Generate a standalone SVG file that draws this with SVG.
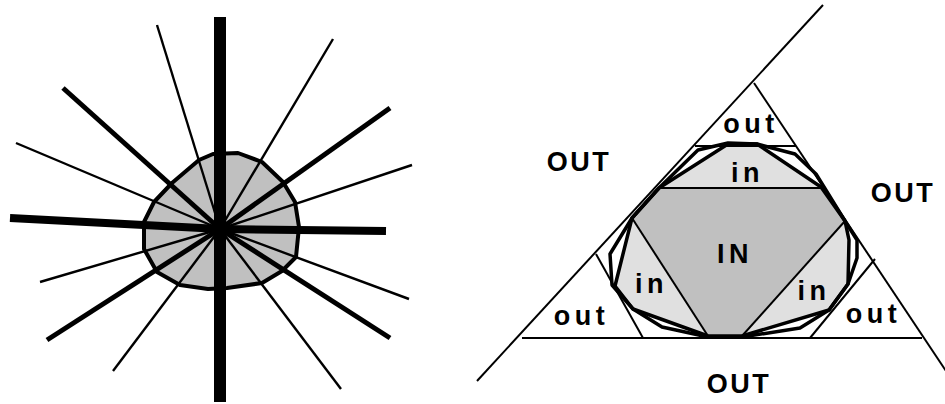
<svg xmlns="http://www.w3.org/2000/svg" width="945" height="404" viewBox="0 0 945 404">
<style>
.ray{stroke:#000;stroke-linecap:butt;fill:none}
.thin{stroke-width:2.4}
.thick{stroke-width:5}
.thn{stroke:#000;stroke-width:2;fill:none}
.poly{stroke:#000;stroke-width:3.5;stroke-linejoin:round}
.lbl{font-family:"Liberation Sans",Arial,sans-serif;font-weight:bold;font-size:27px;fill:#000;text-anchor:middle}
.big{letter-spacing:2.5px}
.sm{letter-spacing:4.5px}
</style>
<rect width="945" height="404" fill="#fff"/>
<g id="left-figure">
  <g id="blob">
    <polygon points="199,160 213,154 238,153 262,162 283,182 295,202 299,227 296,257 282,271 262,283 227,288 208,289 180,285 157,272 144,249 144,222 154,202 172,183" fill="#c0c0c0" stroke="#000" stroke-width="4" stroke-linejoin="round"/>
  </g>
  <g id="rays">
    <line class="ray thin" x1="220" y1="229" x2="157" y2="25"/>
    <line class="ray thin" x1="220" y1="229" x2="333" y2="39"/>
    <line class="ray thin" x1="220" y1="229" x2="16" y2="143"/>
    <line class="ray thin" x1="220" y1="229" x2="412" y2="165"/>
    <line class="ray thin" x1="220" y1="229" x2="40" y2="282"/>
    <line class="ray thin" x1="220" y1="229" x2="409" y2="299"/>
    <line class="ray thin" x1="220" y1="229" x2="113" y2="371"/>
    <line class="ray thin" x1="220" y1="229" x2="341" y2="389"/>
    <line class="ray thick" x1="220" y1="229" x2="63" y2="88"/>
    <line class="ray thick" x1="220" y1="229" x2="390" y2="108"/>
    <line class="ray thick" x1="220" y1="229" x2="390" y2="338"/>
    <line class="ray thick" x1="220" y1="229" x2="47" y2="340"/>
    <line class="ray" stroke-width="8" x1="10" y1="218" x2="220" y2="229"/>
    <line class="ray" stroke-width="8" x1="220" y1="229" x2="386" y2="231"/>
    <line class="ray" stroke-width="12" x1="220" y1="17" x2="220" y2="402"/>
  </g>
</g>
<g id="right-figure">
  <g id="region-in-light">
    <polygon points="632,218 659,188 728,144 757,144 821,187 845,221 849,240 848,284 829,310 742,336 708,336 633,309 615,286" fill="#e0e0e0" stroke="none"/>
  </g>
  <g id="region-IN">
    <polygon points="659,188 821,188 845,221 742,336 708,336 632,218" fill="#c0c0c0" stroke="none"/>
  </g>
  <g id="connectors">
    <line class="thn" x1="477" y1="381" x2="823" y2="5"/>
    <line class="thn" x1="754" y1="83" x2="950" y2="377"/>
    <line class="thn" x1="522" y1="338" x2="922" y2="338"/>
    <line class="thn" x1="695" y1="146" x2="796" y2="146"/>
    <line class="thn" x1="596" y1="254" x2="643" y2="338"/>
    <line class="thn" x1="875" y1="259" x2="810" y2="338"/>
    <line class="thn" stroke-width="2.5" x1="659" y1="188" x2="821" y2="188"/>
    <line class="thn" stroke-width="3.5" x1="632" y1="218" x2="708" y2="336"/>
    <line class="thn" stroke-width="3.5" x1="845" y1="221" x2="742" y2="336"/>
  </g>
  <g id="polygon-outer">
    <polygon class="poly" fill="none" points="632,218 659,188 698,150 728,143 757,144 795,154 816,174 845,221 857,240 857,258 848,284 829,310 800,328 742,337 708,337 662,327 633,309 612,285 610,254"/>
  </g>
  <g id="polygon-inner">
    <polygon class="poly" fill="none" points="632,218 659,188 728,144 757,144 821,187 845,221 849,240 848,284 829,310 742,336 708,336 633,309 615,286"/>
  </g>
  <g id="labels">
    <text class="lbl big" x="579" y="171">OUT</text>
    <text class="lbl big" x="903" y="202">OUT</text>
    <text class="lbl big" x="739" y="393">OUT</text>
    <text class="lbl sm" x="751" y="133">out</text>
    <text class="lbl sm" x="747.5" y="182">in</text>
    <text class="lbl sm" x="735" y="263">IN</text>
    <text class="lbl sm" x="651.5" y="293">in</text>
    <text class="lbl sm" x="814" y="300">in</text>
    <text class="lbl sm" x="581.5" y="325">out</text>
    <text class="lbl sm" x="873.5" y="323">out</text>
  </g>
</g>
</svg>
